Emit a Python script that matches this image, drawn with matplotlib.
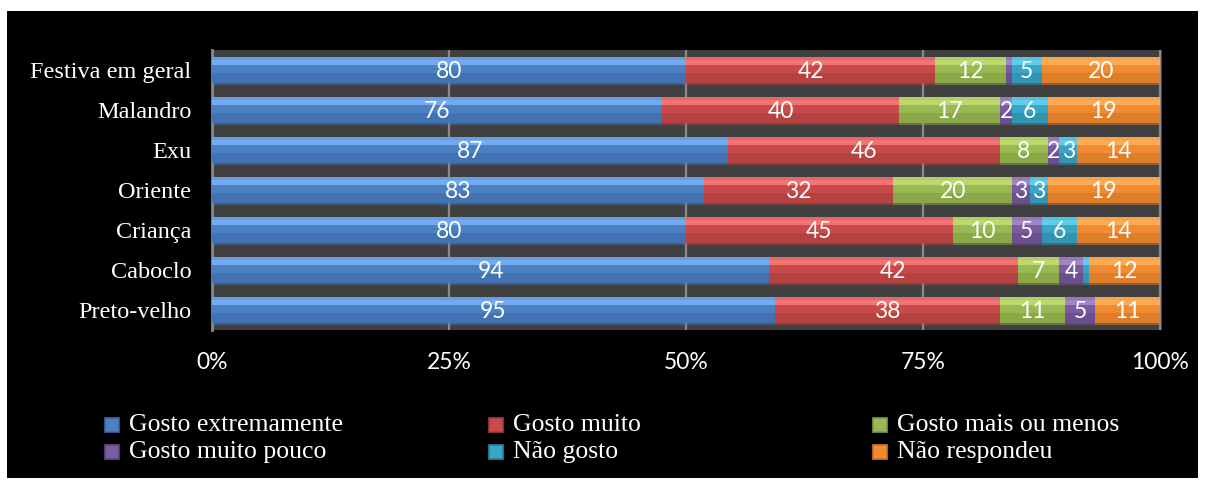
import matplotlib.pyplot as plt
from matplotlib.patches import Rectangle

# Respostas por tipo de festa (contagens)
categorias = ['Festiva em geral', 'Malandro', 'Exu', 'Oriente',
              'Criança', 'Caboclo', 'Preto-velho']
series = ['Gosto extremamente', 'Gosto muito', 'Gosto mais ou menos',
          'Gosto muito pouco', 'Não gosto', 'Não respondeu']
extremamente = [80, 76, 87, 83, 80, 94, 95]
muito = [42, 40, 46, 32, 45, 42, 38]
mais_ou_menos = [12, 17, 8, 20, 10, 7, 11]
muito_pouco = [1, 2, 2, 3, 5, 4, 5]
nao_gosto = [5, 6, 3, 3, 6, 1, 0]
nao_respondeu = [20, 19, 14, 19, 14, 12, 11]
valores = [extremamente, muito, mais_ou_menos, muito_pouco, nao_gosto, nao_respondeu]
xticks = ['0%', '25%', '50%', '75%', '100%']

# (claro, médio, escuro) para o efeito de chanfro
cores = [
    ('#74aaf0', '#4b80c2', '#3b67a3'),
    ('#f47474', '#c84b49', '#a53b39'),
    ('#bcd96e', '#98b954', '#7d9c40'),
    ('#a185c6', '#7a5b9f', '#5f4682'),
    ('#62cdea', '#3aa5c5', '#2a88a3'),
    ('#fdac55', '#f18b31', '#d37222'),
]

W, H = 1205, 486
fig = plt.figure(figsize=(W / 100, H / 100), dpi=100, facecolor='white')
fig.patches.append(Rectangle((7 / W, 1 - 478 / H), 1191 / W, 467 / H,
                             transform=fig.transFigure, facecolor='black',
                             edgecolor='none', zorder=-10))

ax = fig.add_axes([212 / W, 1 - 330 / H, 950 / W, 280 / H])
ax.set_zorder(1)
ax.set_facecolor('#404040')

n = len(categorias)
ypos = [n - 1 - i for i in range(n)]
totais = [sum(v[i] for v in valores) for i in range(n)]
h = 0.64

esquerda = [0.0] * n
for s, vals in enumerate(valores):
    claro, medio, escuro = cores[s]
    larg = [vals[i] / totais[i] for i in range(n)]
    # sombra sob a barra
    ax.barh([y - h / 2 - 0.03 for y in ypos], larg, left=esquerda, height=0.07,
            color=medio, alpha=0.45, edgecolor='none', zorder=2)
    ax.barh(ypos, larg, left=esquerda, height=h, color=medio,
            edgecolor='none', zorder=3)
    ax.barh([y + h / 2 - h * 0.2 for y in ypos], larg, left=esquerda,
            height=h * 0.22, color=claro, edgecolor='none', zorder=4)
    ax.barh([y + h / 2 - h * 0.05 for y in ypos], larg, left=esquerda,
            height=h * 0.1, color=claro, alpha=0.7, edgecolor='none', zorder=4)
    ax.barh([y - h / 2 + h * 0.2 for y in ypos], larg, left=esquerda,
            height=h * 0.4, color=escuro, alpha=0.55, edgecolor='none', zorder=4)
    for i in range(n):
        if vals[i] >= 2:
            ax.text(esquerda[i] + larg[i] / 2, ypos[i] - 0.04, str(vals[i]),
                    ha='center', va='center', color='white', fontsize=16.5,
                    family='Lato', zorder=5)
    esquerda = [esquerda[i] + larg[i] for i in range(n)]

ax.set_xlim(0, 1.002)
ax.set_ylim(-0.5, n - 0.5)
ax.set_xticks([0, 0.25, 0.5, 0.75, 1.0])
ax.set_xticklabels(xticks, family='Lato', fontsize=16.5, color='white')
ax.set_yticks(ypos)
ax.set_yticklabels(categorias, family='Liberation Serif', fontsize=17.5,
                   color='white')
ax.tick_params(axis='x', length=0, pad=16)
ax.tick_params(axis='y', length=0, pad=15)
ax.xaxis.grid(True, color='#8a8a8a', lw=1.6, zorder=1)
ax.set_axisbelow(True)
for lado in ['top', 'right', 'bottom']:
    ax.spines[lado].set_visible(False)
ax.spines['left'].set_color('#8a8a8a')
ax.spines['left'].set_linewidth(2)

# legenda em duas linhas e três colunas
col_x = [105, 489, 873]
lin_y = [425, 452]
for s, nome in enumerate(series):
    cx = col_x[s % 3]
    cy = lin_y[s // 3]
    claro, medio, escuro = cores[s]
    fig.patches.append(Rectangle((cx / W, 1 - (cy + 7) / H), 14 / W, 14 / H,
                                 transform=fig.transFigure, facecolor=medio,
                                 edgecolor=escuro, lw=1.2, zorder=3))
    fig.text((cx + 24) / W, 1 - cy / H, nome, family='Liberation Serif',
             fontsize=18.5, color='white', va='center', ha='left')

fig.savefig('out.png', dpi=100, facecolor='white')
